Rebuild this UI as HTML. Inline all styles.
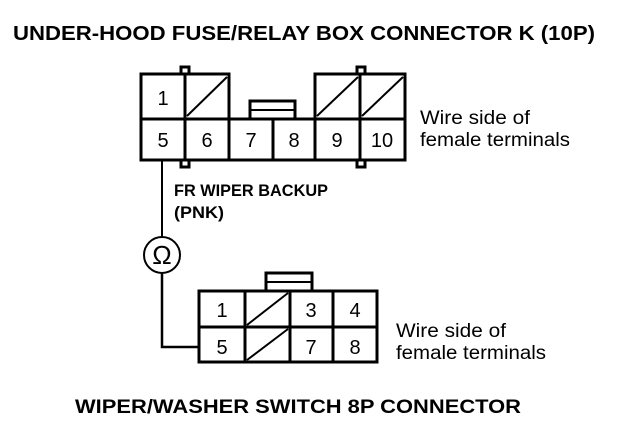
<!DOCTYPE html>
<html><head><style>body{margin:0;background:#fff}svg{display:block}text{font-family:"Liberation Sans",sans-serif}</style></head><body>
<svg width="624" height="430" viewBox="0 0 624 430" xmlns="http://www.w3.org/2000/svg">
<g fill="#000">
<text x="13" y="40" font-size="20" font-weight="bold" textLength="582" lengthAdjust="spacingAndGlyphs">UNDER-HOOD FUSE/RELAY BOX CONNECTOR K (10P)</text>
<text x="174" y="196" font-size="17" font-weight="bold" textLength="154" lengthAdjust="spacingAndGlyphs">FR WIPER BACKUP</text>
<text x="174" y="218" font-size="17" font-weight="bold" textLength="50" lengthAdjust="spacingAndGlyphs">(PNK)</text>
<text x="420" y="124" font-size="19" textLength="110" lengthAdjust="spacingAndGlyphs">Wire side of</text>
<text x="420" y="146" font-size="19" textLength="150" lengthAdjust="spacingAndGlyphs">female terminals</text>
<text x="396" y="337" font-size="19" textLength="110" lengthAdjust="spacingAndGlyphs">Wire side of</text>
<text x="396" y="359" font-size="19" textLength="150" lengthAdjust="spacingAndGlyphs">female terminals</text>
<text x="75" y="413" font-size="19" font-weight="bold" textLength="446" lengthAdjust="spacingAndGlyphs">WIPER/WASHER SWITCH 8P CONNECTOR</text>
</g>
<g stroke="#000" stroke-width="3" fill="none">
<rect x="141" y="74" width="88" height="45"/>
<rect x="315" y="74" width="90" height="45"/>
<rect x="141" y="119" width="264" height="41"/>
<line x1="185" y1="74" x2="185" y2="160"/>
<line x1="229" y1="119" x2="229" y2="160"/>
<line x1="273" y1="119" x2="273" y2="160"/>
<line x1="315" y1="119" x2="315" y2="160"/>
<line x1="360" y1="74" x2="360" y2="160"/>
<line x1="187" y1="116" x2="227" y2="77" stroke-width="2"/>
<line x1="317" y1="116" x2="358" y2="77" stroke-width="2"/>
<line x1="362" y1="116" x2="403" y2="77" stroke-width="2"/>
<rect x="250" y="101" width="45" height="18"/>
<line x1="250" y1="110" x2="295" y2="110" stroke-width="2"/>
<rect x="181" y="67" width="8" height="7" stroke-width="3"/>
<rect x="357" y="67" width="8" height="7" stroke-width="3"/>
<rect x="181" y="160" width="8" height="7" stroke-width="3"/>
<rect x="357" y="160" width="8" height="7" stroke-width="3"/>
<rect x="199" y="291" width="178" height="71"/>
<line x1="199" y1="327" x2="377" y2="327"/>
<line x1="245" y1="291" x2="245" y2="362"/>
<line x1="290" y1="291" x2="290" y2="362"/>
<line x1="333" y1="291" x2="333" y2="362"/>
<line x1="247" y1="325" x2="288" y2="293" stroke-width="2"/>
<line x1="247" y1="360" x2="288" y2="329" stroke-width="2"/>
<rect x="266" y="273" width="46" height="18"/>
<line x1="266" y1="282" x2="312" y2="282" stroke-width="2"/>
<polyline points="162,160 162,237" stroke-width="2"/>
<polyline points="162,273 162,347 199,347" stroke-width="2.5"/>
<circle cx="162" cy="255" r="18" stroke-width="2"/>
</g>
<g fill="#000" font-size="20" text-anchor="middle">
<text x="162" y="264" font-size="26">Ω</text>
<text x="163" y="105">1</text>
<text x="163" y="147">5</text><text x="207" y="147">6</text><text x="251" y="147">7</text><text x="294" y="147">8</text><text x="337" y="147">9</text><text x="382" y="147">10</text>
<text x="222" y="317">1</text><text x="311" y="317">3</text><text x="355" y="317">4</text>
<text x="222" y="354">5</text><text x="311" y="354">7</text><text x="355" y="354">8</text>
</g>
</svg>
</body></html>
